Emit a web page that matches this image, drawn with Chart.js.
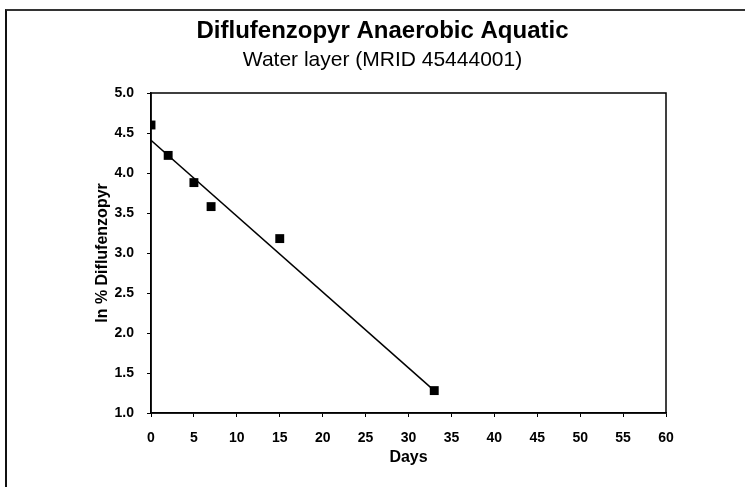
<!DOCTYPE html>
<html>
<head>
<meta charset="utf-8">
<script src="https://cdn.jsdelivr.net/npm/chart.js@4.4.0/dist/chart.umd.min.js"></script>
<style>
  html, body { margin: 0; padding: 0; background: #fff; }
  #wrap { position: relative; width: 745px; height: 487px; }
  #frame { position: absolute; left: 5px; top: 9px; right: 0; bottom: 0; border-left: 2px solid #111; border-top: 2px solid #333; pointer-events: none; }
  canvas { position: absolute; left: 0; top: 0; }
</style>
</head>
<body>
<div id="wrap">
  <canvas id="chart" width="745" height="487"></canvas>
  <div id="frame"></div>
</div>
<script>
const days = [0, 2, 5, 7, 15, 33];
const lnPercent = [4.6, 4.22, 3.88, 3.58, 3.18, 1.28];

// fitted line end points
const fitDays = [0, 33];
const fitValues = [4.41, 1.28];

const xTicks = [0, 5, 10, 15, 20, 25, 30, 35, 40, 45, 50, 55, 60];
const yTicks = [1.0, 1.5, 2.0, 2.5, 3.0, 3.5, 4.0, 4.5, 5.0];

const font = 'Arial, "Liberation Sans", Helvetica, sans-serif';

const points = days.map((d, i) => ({ x: d, y: lnPercent[i] }));
const fit = fitDays.map((d, i) => ({ x: d, y: fitValues[i] }));

new Chart(document.getElementById('chart').getContext('2d'), {
  type: 'scatter',
  data: {
    datasets: [
      {
        label: 'Fit',
        data: fit,
        showLine: true,
        borderColor: '#000',
        borderWidth: 1.5,
        pointRadius: 0,
        order: 2,
      },
      {
        label: 'Water layer',
        data: points,
        pointStyle: 'rect',
        pointRadius: 6.3,
        backgroundColor: '#000',
        borderColor: '#000',
        borderWidth: 0,
        order: 1,
      },
    ],
  },
  options: {
    responsive: false,
    animation: false,
    layout: { padding: { left: 20, right: 0, top: 0, bottom: 0 } },
    plugins: {
      legend: { display: false },
      tooltip: { enabled: false },
      title: {
        display: true,
        text: 'Diflufenzopyr Anaerobic Aquatic',
        color: '#000',
        font: { family: font, size: 24, weight: 'bold' },
        padding: { top: 17, bottom: 2 },
      },
      subtitle: {
        display: true,
        text: 'Water layer (MRID 45444001)',
        color: '#000',
        font: { family: font, size: 21 },
        padding: { top: 0, bottom: 20 },
      },
    },
    scales: {
      x: {
        type: 'linear',
        min: 0,
        max: 60,
        afterBuildTicks: (scale) => { scale.ticks = xTicks.map((v) => ({ value: v })); },
        afterFit: (scale) => { scale.height = 74; },
        border: { display: true, color: '#000', width: 1.5 },
        grid: { display: true, drawOnChartArea: false, drawTicks: true, tickLength: 4, color: '#000' },
        ticks: { color: '#000', font: { family: font, size: 14, weight: 'bold' }, padding: 13, maxRotation: 0 },
        title: { display: true, text: 'Days', color: '#000', font: { family: font, size: 16, weight: 'bold' }, padding: { top: 0, bottom: 20 } },
      },
      yOuter: {
        type: 'linear',
        position: 'left',
        weight: 5,
        min: 1,
        max: 5,
        afterFit: (scale) => { scale.width = 69; },
        border: { display: false },
        grid: { display: false },
        ticks: { display: false },
      },
      y: {
        type: 'linear',
        position: 'left',
        weight: 1,
        min: 1,
        max: 5,
        afterBuildTicks: (scale) => { scale.ticks = yTicks.map((v) => ({ value: v })); },
        afterFit: (scale) => { scale.width = 62; },
        border: { display: true, color: '#000', width: 1.5 },
        grid: { display: true, drawOnChartArea: false, drawTicks: true, tickLength: 4, color: '#000' },
        ticks: { color: '#000', font: { family: font, size: 14, weight: 'bold' }, padding: 13, callback: (v) => Number(v).toFixed(1) },
        title: { display: true, text: 'ln % Diflufenzopyr', color: '#000', font: { family: font, size: 16, weight: 'bold' } },
      },
      yRight: {
        type: 'linear',
        position: 'right',
        min: 1,
        max: 5,
        afterFit: (scale) => { scale.width = 79; },
        border: { display: false },
        grid: { display: false },
        ticks: { display: false },
      },
    },
  },
  plugins: [{
    id: 'plotFrame',
    afterDraw(chart) {
      const a = chart.chartArea;
      const ctx = chart.ctx;
      ctx.save();
      ctx.strokeStyle = '#000';
      ctx.lineWidth = 1.5;
      ctx.strokeRect(a.left, a.top, a.right - a.left, a.bottom - a.top);
      ctx.restore();
    },
  }],
});
</script>
</body>
</html>
